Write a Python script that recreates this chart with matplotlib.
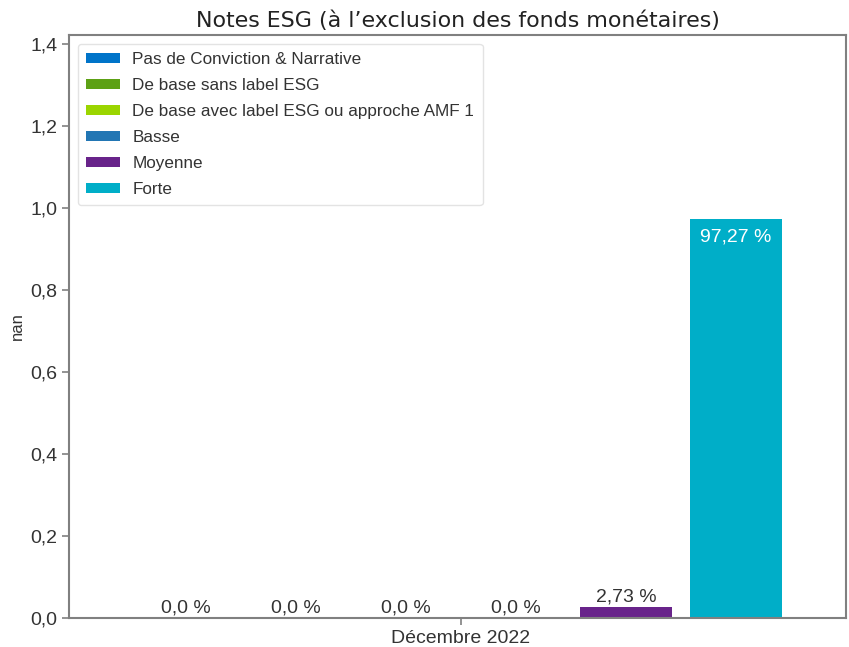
import numpy as np
import matplotlib
matplotlib.use("Agg")
from matplotlib import pyplot as plt

plt.rcParams['font.family'] = ['Liberation Sans', 'DejaVu Sans']

category = "Décembre 2022"
series = ["Pas de Conviction & Narrative", "De base sans label ESG",
          "De base avec label ESG ou approche AMF 1", "Basse", "Moyenne", "Forte"]
values = [0.0, 0.0, 0.0, 0.0, 0.0273, 0.9727]
labels = ["0,0 %", "0,0 %", "0,0 %", "0,0 %", "2,73 %", "97,27 %"]
colors = ["#0074C9", "#5DA115", "#9BD500", "#2276B4", "#68238A", "#00AEC8"]

fig = plt.figure(figsize=(8.49, 6.47), dpi=100)
ax = fig.add_axes([69/849, 1-618/647, (846-69)/849, (618-35)/647])

step = 0.1
width = 0.083
for i, (name, v, lab, c) in enumerate(zip(series, values, labels, colors)):
    x = (i - 2.5) * step
    ax.bar(x, v, width=width, color=c, label=name)
    if v > 0.5:
        ax.text(x, v - 0.022, lab, ha='center', va='top', color='white', fontsize=14)
    else:
        ax.text(x, v + 0.004, lab, ha='center', va='bottom', color='#333333', fontsize=14)

ax.set_xlim(-0.356, 0.35)
ax.set_ylim(0, 1.422)
ax.set_xticks([0])
ax.set_xticklabels([category])
ax.set_yticks(np.arange(0, 1.41, 0.2))
ax.set_yticklabels([f"{t:.1f}".replace('.', ',') for t in np.arange(0, 1.41, 0.2)])
ax.tick_params(labelsize=14, colors='#808080', labelcolor='#333333', length=5, width=1.2)
ax.set_ylabel("nan", fontsize=12, color='#333333')
ax.set_title("Notes ESG (à l’exclusion des fonds monétaires)", fontsize=15.9,
             family='DejaVu Sans', color='#222222', pad=6)
for s in ax.spines.values():
    s.set_color('#808080')
    s.set_linewidth(1.5)

leg = ax.legend(loc='upper left', fontsize=12.3, frameon=True, handlelength=2.0,
                handleheight=0.55, labelspacing=0.64, borderpad=0.5,
                handletextpad=0.7)
leg.get_frame().set_edgecolor('#dddddd')
for t in leg.get_texts():
    t.set_color('#333333')

fig.savefig("out.png", dpi=100)
